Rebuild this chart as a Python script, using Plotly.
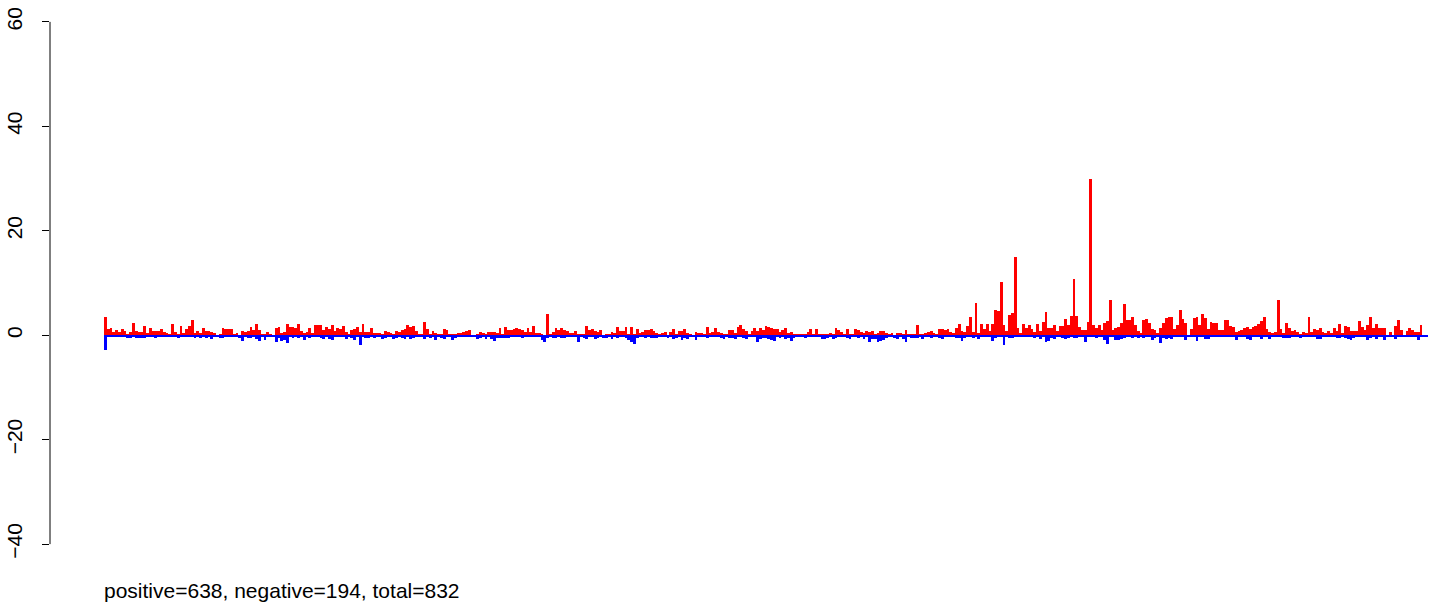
import plotly.graph_objects as go

# Positive (red) and negative (blue) values per position, left to right
pos_g1 = [3.5,1.15,1.4,0.6,1.0,0.7,1.15,0.8,0.3,0.7,2.4,0.8,0.65,0.7,1.7,0.45,1.3,0.9,0.75,0.75,1.15,0.6,0.45,0.2,2.1,0.6,0.2,1.7,0.5,1.1,1.7,2.9,0.45,0.75,0.45,1.3,0.8,0.8]
neg_g1 = [-2.9,-0.3,-0.3,-0.3,-0.3,-0.3,-0.2,-0.3,-0.45,-0.45,-0.2,-0.5,-0.5,-0.5,-0.5,-0.2,-0.2,-0.3,-0.45,-0.2,-0.2,-0.2,-0.3,-0.2,-0.3,-0.3,-0.45,-0.3,-0.3,-0.2,-0.2,-0.2,-0.45,-0.3,-0.45,-0.3,-0.6,-0.3]
pos_g2 = [0.65,0.5,0,0.3,1.3,1.1,1.1,1.15,0.2,0.4,0,0.75,0.65,0.8,1.5,1.0,2.1,1.0,0.3,0.3,0.6,0.3,0,1.3,1.5,0.45,0.65,2.1,1.5,1.6,1.3,2.2,0.9,0.45,0.65,1.3,0.45,1.9,1.9]
neg_g2 = [-0.65,-0.2,-0.2,-0.45,-0.45,-0.3,-0.3,-0.3,-0.3,-0.3,-0.45,-1.1,-0.3,-0.6,-0.6,-0.3,-0.65,-1.1,-0.3,-0.85,-0.2,-0.2,-0.3,-1.3,-0.45,-1.1,-0.85,-1.4,-0.3,-0.6,-0.3,-0.45,-0.3,-0.85,-0.3,-0.45,-0.2,-0.3,-0.2]
pos_g3 = [1.9,1.0,1.5,1.15,1.9,0.9,1.3,1.1,1.7,0.65,0.3,1.0,1.1,1.5,0.6,2.2,0.65,0.65,1.3,0.45,0.45,0.45,0.2,0.8,0.65,0.4,0.3,0.8,0.65,1.0,1.1,1.9,1.5,1.7,0.8,0.3,0.3,2.55,1.1]
neg_g3 = [-0.45,-0.65,-0.3,-0.65,-0.85,-0.3,-0.3,-0.3,-0.3,-0.65,-0.3,-0.45,-1.0,-0.3,-1.9,-0.3,-0.6,-0.45,-0.3,-0.45,-0.3,-0.3,-0.65,-0.45,-0.3,-0.3,-0.65,-0.45,-0.3,-0.45,-0.65,-0.3,-0.65,-0.45,-0.3,-0.3,-0.3,-0.65,-0.3]
pos_g4 = [0.2,0.8,0.45,0.3,0.2,1.1,1.0,0.3,0.3,0.3,0.5,0.45,0.65,0.8,1.0,0,0,0.2,0.65,0.45,0.3,0.6,0.65,0.65,0.45,1.3,0.2,1.5,1.0,1.0,1.1,1.3,1.2,1.0,0.65,1.3,0.65,1.7,0.45]
neg_g4 = [-0.45,-0.3,-1.0,-0.3,-0.45,-0.65,-0.3,-0.3,-0.85,-0.45,-0.3,-0.3,-0.3,-0.3,-0.2,-0.2,-0.3,-0.65,-0.45,-0.3,-0.65,-0.3,-0.65,-1.1,-0.45,-0.45,-0.45,-0.45,-0.45,-0.3,-0.3,-0.3,-0.3,-0.45,-0.3,-0.3,-0.2,-0.2,-0.3]
pos_g5 = [0.45,0.2,0,4.0,0.3,0.65,1.3,1.0,1.3,1.0,0.8,0.45,0.45,0.8,0.3,0.3,0.2,1.7,1.0,1.1,0.8,0.65,1.0,0,0.2,0.3,0.65,0.45,1.6,0.8,0.8,1.5,0.3,1.6,0.2,1.1,0.45,0.65,1.0,1.0]
neg_g5 = [-0.3,-0.85,-1.3,-0.45,-0.3,-0.45,-0.45,-0.3,-0.45,-0.45,-0.3,-0.3,-0.3,-0.3,-1.3,-0.3,-0.45,-0.65,-0.3,-0.3,-0.65,-0.45,-0.3,-0.45,-0.45,-0.3,-0.65,-0.3,-0.45,-0.3,-0.3,-0.45,-0.85,-1.3,-1.6,-0.45,-0.3,-0.3,-0.45,-0.3]
pos_g6 = [1.1,0.8,0.45,0.3,0.45,0.65,0,0.65,1.1,0.3,0.8,0.8,1.1,0.45,0.3,0,0.65,0.45,0.45,0.3,1.5,0.45,0.65,1.3,0.65,0.45,0.2,0.3,1.0,1.0,0.45,1.5,1.9,1.1,0.8,0.3,0.8,1.3,0.9]
neg_g6 = [-0.45,-0.45,-0.45,-0.3,-0.2,-0.3,-0.45,-0.3,-0.65,-0.45,-0.3,-0.85,-0.45,-0.65,-0.3,-0.3,-1.0,-0.3,-0.2,-0.2,-0.45,-0.2,-0.3,-0.3,-0.3,-0.45,-0.65,-0.3,-0.45,-0.45,-0.65,-0.2,-0.3,-0.45,-0.65,-0.3,-0.3,-0.3,-1.3]
pos_g7 = [1.3,1.0,1.7,1.6,1.3,1.1,1.1,0.65,1.0,1.3,0.45,0.65,0.3,0.2,0.2,0.3,0.3,0.65,1.1,0.3,1.1,0.3,0.3,0.3,0.2,0.45,0.2,1.3,1.0,0.65,0.2,1.1,0.2,0.3,1.1,1.0,0.65,0.45,0.8,0.6]
neg_g7 = [-0.65,-0.45,-0.45,-0.65,-0.85,-1.1,-0.3,-0.45,-0.3,-0.65,-0.45,-1.1,-0.45,-0.3,-0.2,-0.2,-0.45,-0.3,-0.2,-0.3,-0.3,-0.3,-0.65,-0.65,-0.45,-0.3,-0.65,-0.45,-0.3,-0.3,-0.2,-0.45,-0.65,-0.3,-0.3,-0.45,-0.2,-0.65,-0.3,-1.3]
pos_g8 = [0.8,0.2,0.45,0.8,0.8,0.45,0.2,0.45,0,0.45,0.45,0.2,1.0,0.2,0.2,0.3,1.9,0.2,0.2,0.45,0.65,0.8,0.45,0.3,1.1,1.1,1.0,1.1]
neg_g8 = [-0.65,-0.65,-1.3,-1.1,-0.85,-0.45,-0.3,-0.3,-0.45,-0.65,-0.3,-0.65,-1.3,-0.3,-0.45,-0.45,-0.45,-0.3,-0.65,-0.3,-0.3,-0.45,-0.3,-0.3,-0.45,-0.65,-0.3,-0.3]
pos_g9 = [0.6,0.45,1.3,2.2,0.75,0.6,1.7,3.5,0.6,6.2,0.45,2.2,1.1,2.1,0.75,2.2,4.9,4.6,10.2,1.9,0.8,3.8,4.3,15.0,1.3,0.45,2.2,1.3,1.9,1.1,0.6,2.1,0.75,2.6,4.5,1.3,1.3,1.9,0.75,1.7]
neg_g9 = [-0.2,-0.3,-0.45,-0.45,-1.1,-0.45,-0.2,-0.3,-0.45,-0.2,-0.65,-0.3,-0.2,-0.2,-0.3,-1.1,-0.45,-0.2,-0.2,-1.9,-0.2,-0.45,-0.45,-0.2,-0.2,-0.2,-0.2,-0.2,-0.2,-0.2,-0.45,-0.2,-0.65,-0.2,-1.3,-1.1,-0.45,-0.65,-0.3,-0.3]
pos_g10 = [1.7,3.1,1.9,3.6,10.7,3.6,1.5,1.0,1.0,2.5,29.9,1.9,1.3,1.9,1.0,2.3,2.7,6.7,1.0,1.3,1.5,2.3,5.9,2.9,2.9,3.4,1.9,0.75,0.4,2.9,3.1,2.3,1.1,1.0,0.4,1.3,2.3,3.3,3.4]
neg_g10 = [-0.5,-0.75,-0.45,-0.3,-0.45,-0.55,-0.3,-0.3,-1.35,-0.3,-0.3,-0.3,-0.55,-0.3,-0.3,-1.0,-1.65,-0.3,-0.3,-1.0,-1.0,-0.75,-0.45,-0.3,-0.3,-0.5,-0.3,-0.5,-0.3,-0.5,-0.3,-0.3,-1.0,-0.5,-0.3,-1.5,-0.5,-0.8,-0.55]
pos_g11 = [3.5,1.15,1.9,4.8,3.1,2.3,0,1.15,3.3,3.4,1.9,4.0,3.3,1.15,2.5,2.3,2.3,0.95,0.95,2.9,2.9,1.7,1.5,0.6,0.75,0.95,1.3,1.5,1.15,1.5,1.7,2.1,2.7,3.4,1.15,0.6,0.4,0.6,6.7,1.15]
neg_g11 = [-0.65,-0.4,-0.4,-0.4,-0.4,-0.85,-0.4,-0.4,-0.4,-1.15,-0.4,-0.4,-0.65,-0.65,-0.4,-0.4,-0.4,-0.4,-0.4,-0.4,-0.4,-0.4,-0.4,-0.85,-0.4,-0.4,-0.4,-0.65,-0.85,-0.4,-0.4,-0.4,-0.65,-0.4,-0.4,-0.65,-0.4,-0.4,-0.2,-0.2]
pos_g12 = [0.5,2.3,1.3,0.75,0.95,0.6,0.2,0.6,0.4,3.45,0.6,1.15,0.95,1.3,0.6,0.4,0.75,0.4,1.3,0.75,2.1,0.4,1.7,1.5,0.75,0.75,0.75,2.7,1.5,0.95,1.9,3.45,1.3,2.1,1.3,1.3,1.3,0,0.6,0,1.7,2.9,0.95,0,0.75,1.3,0.95,0.6,0.6,1.9,0,0]
neg_g12 = [-0.55,-0.55,-0.55,-0.2,-0.35,-0.35,-0.55,-0.35,-0.3,-0.35,-0.2,-0.2,-0.75,-0.75,-0.35,-0.35,-0.35,-0.35,-0.35,-0.55,-0.55,-0.35,-0.55,-0.75,-0.95,-0.55,-0.35,-0.2,-0.2,-0.35,-0.95,-0.55,-0.2,-0.75,-0.35,-0.35,-0.95,-0.35,-0.35,-0.2,-0.75,-0.35,-0.2,-0.35,-0.2,-0.2,-0.35,-0.2,-0.95,-0.35,-0.35,-0.35]

y_tick_vals = [-40, -20, 0, 20, 40, 60]
footer_text = "positive=638, negative=194, total=832"

pos_vals = (pos_g1 + pos_g2 + pos_g3 + pos_g4 + pos_g5 + pos_g6 + pos_g7 +
            pos_g8 + pos_g9 + pos_g10 + pos_g11 + pos_g12)
neg_vals = (neg_g1 + neg_g2 + neg_g3 + neg_g4 + neg_g5 + neg_g6 + neg_g7 +
            neg_g8 + neg_g9 + neg_g10 + neg_g11 + neg_g12)
n = min(len(pos_vals), len(neg_vals))
pos_vals = pos_vals[:n]
neg_vals = neg_vals[:n]
idx = list(range(n))

W, H = 1429, 603
left_px, right_px = 50, 1429
first_px, last_px = 104, 1428
scale = (last_px - first_px) / n
x0 = -0.5 - (first_px - left_px) / scale
x1 = x0 + (right_px - left_px) / scale

fig = go.Figure()
fig.add_trace(go.Bar(x=idx, y=pos_vals, marker=dict(color="#FF0000", line=dict(width=0)),
                     hoverinfo="y", showlegend=False))
fig.add_trace(go.Bar(x=idx, y=neg_vals, marker=dict(color="#0000FF", line=dict(width=0)),
                     hoverinfo="y", showlegend=False))

fig.add_shape(type="line", xref="paper", yref="y", x0=0, x1=0, y0=-40, y1=60,
              line=dict(color="black", width=1))

fig.add_annotation(text=footer_text, xref="x", yref="paper", x=-0.5, y=-0.046,
                   xanchor="left", yanchor="middle", showarrow=False, xshift=-2,
                   font=dict(family="Liberation Sans, Arial", size=21, color="black"))

fig.update_layout(
    width=W, height=H,
    margin=dict(l=left_px, r=0, t=1, b=38, autoexpand=False),
    paper_bgcolor="white", plot_bgcolor="white",
    barmode="relative", bargap=0,
    font=dict(family="Liberation Sans, Arial", size=21, color="black"),
    xaxis=dict(visible=False, range=[x0, x1]),
    yaxis=dict(range=[-44, 64], tickvals=y_tick_vals, ticktext=[str(v).replace("-", "\u2212") for v in y_tick_vals],
               ticks="outside", ticklen=7, tickwidth=1, tickcolor="black",
               showline=False, showgrid=False, zeroline=False, tickangle=-90,
               ticklabelstandoff=12, automargin=False),
)

fig.write_html("out.html", config={"displayModeBar": False},
               post_script="document.body.style.margin='0';document.body.style.overflow='hidden';")
